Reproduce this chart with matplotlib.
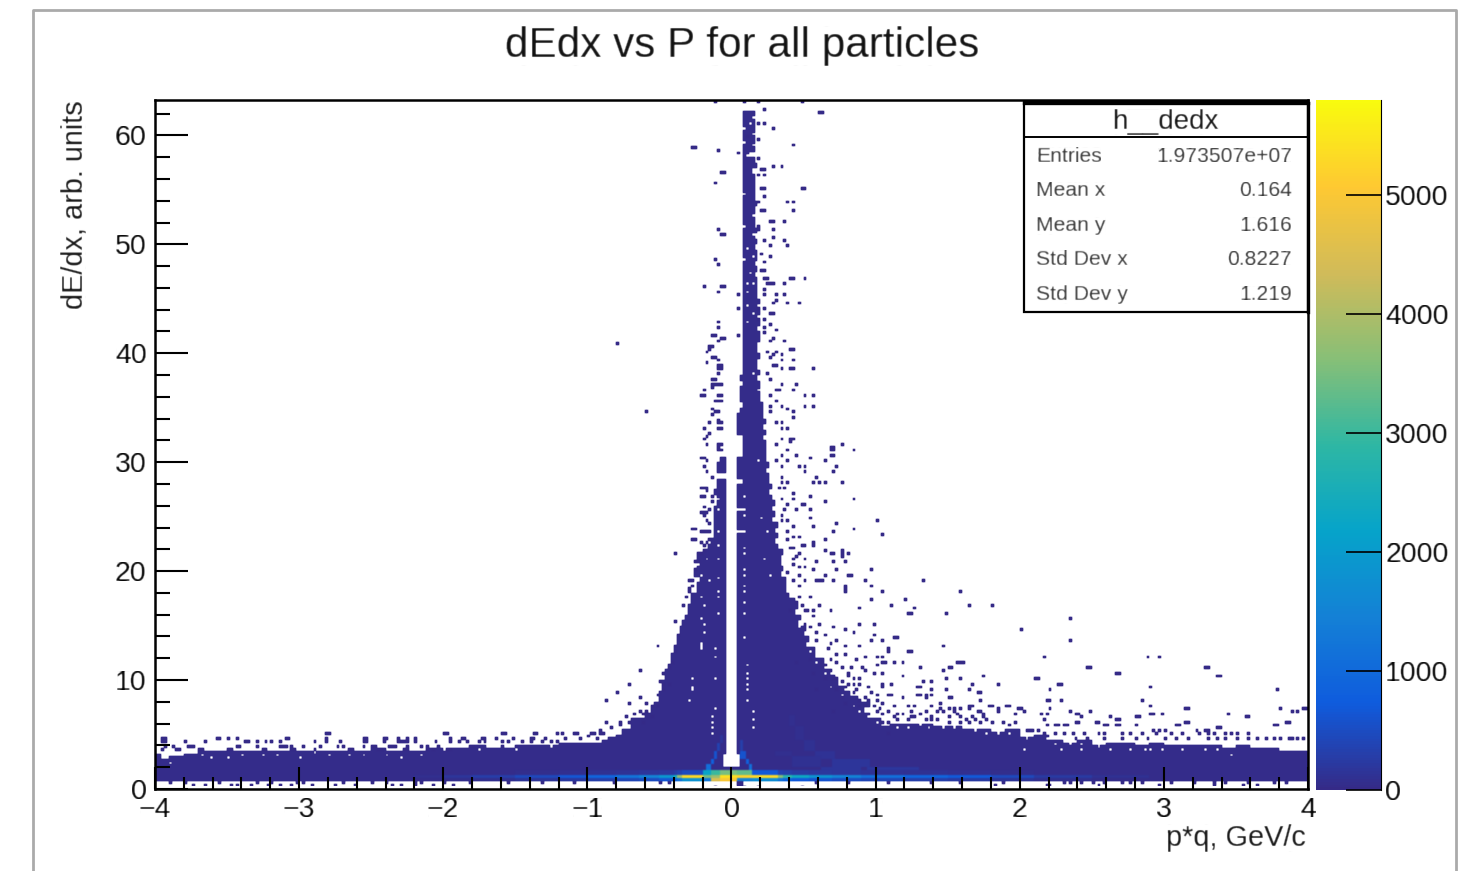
import numpy as np
import matplotlib
matplotlib.use('Agg')
import matplotlib.pyplot as plt
from matplotlib.colors import LinearSegmentedColormap
from matplotlib.lines import Line2D
from matplotlib.patches import Rectangle

plt.rcParams['font.family'] = ['Liberation Sans', 'DejaVu Sans']

# histogram binning
n_p_bins = 400
n_y_bins = 253
y_max = 63.25

# solid body below dE/dx = 6: column ranges [left edge, top of filled region]
body_edges = [-4.0, -3.95, -3.9, -3.8, -3.7, -3.6, -3.5, -3.4, -3.3, -3.2, -3.1, -3.0, -2.9, -2.8, -2.7, -2.6, -2.5,
              -2.4, -2.3, -2.2, -2.1, -2.0, -1.9, -1.8, -1.7, -1.6, -1.5, -1.4, -1.3, -1.2, -1.1, -1.0, -0.95,
              -0.9, -0.85, -0.8, -0.75, -0.7, -0.05, 0.04, 1.05, 1.1, 1.2, 1.3, 1.4, 1.5, 1.6, 1.7, 1.8,
              1.9, 2.0, 2.1, 2.2, 2.3, 2.4, 2.5, 2.6, 2.7, 2.8, 2.9, 3.0, 3.1, 3.2, 3.3, 3.4, 3.5, 3.6, 3.7, 3.8, 3.9, 4.0]
body_tops = [3.3, 2.7, 2.9, 3.2, 3.4, 3.4, 3.5, 3.4, 3.6, 3.4, 3.5, 3.4, 3.5, 3.6, 3.4, 3.5, 3.7, 3.5, 3.6, 3.5, 3.7,
             3.8, 3.7, 3.9, 3.8, 3.8, 4.0, 3.9, 4.0, 4.2, 4.2, 4.2, 4.3, 4.4, 4.8, 5.0, 5.4, 6.0, 2.0, 6.0,
             5.8, 6.0, 6.1, 6.0, 5.7, 5.8, 5.5, 5.4, 5.3, 5.4, 4.8, 4.9, 4.4, 4.3, 4.4, 4.1, 4.3, 4.3, 4.1, 4.2, 4.0, 4.1,
             3.9, 3.9, 3.8, 3.9, 3.8, 3.7, 3.6, 3.5]
body_count = 30

# solid spike above dE/dx = 6: one entry per 0.5-high row starting at 6
spike_right = [1.05, 0.97, 0.93, 0.96, 0.88, 0.83, 0.78, 0.75, 0.72, 0.67, 0.63, 0.63, 0.58, 0.58, 0.53, 0.54, 0.50, 0.52,
               0.47, 0.49, 0.45, 0.47, 0.44, 0.41, 0.39, 0.38, 0.39, 0.35, 0.37, 0.35, 0.34, 0.36, 0.33, 0.31, 0.33, 0.30,
               0.32, 0.29, 0.31, 0.28, 0.30, 0.28, 0.27, 0.29, 0.26, 0.27, 0.25, 0.27, 0.24, 0.25, 0.23, 0.24, 0.22, 0.24,
               0.21, 0.23, 0.22, 0.21, 0.22, 0.20, 0.20, 0.19, 0.20, 0.18, 0.19, 0.18, 0.18, 0.19, 0.18, 0.17, 0.19, 0.19,
               0.17, 0.20, 0.18, 0.19, 0.17, 0.19, 0.17, 0.175, 0.17, 0.18, 0.165, 0.17, 0.165, 0.17, 0.18, 0.165, 0.17,
               0.16, 0.17, 0.165, 0.155, 0.165, 0.16, 0.17, 0.16, 0.165, 0.16, 0.15, 0.16, 0.14, 0.17, 0.15, 0.11, 0.15,
               0.165, 0.155, 0.15, 0.165, 0.16, 0.155, 0.15]
spike_left = [-0.70, -0.60, -0.56, -0.54, -0.50, -0.49, -0.47, -0.47, -0.46, -0.45, -0.43, -0.42, -0.41, -0.39, -0.37,
              -0.37, -0.35, -0.35, -0.33, -0.31, -0.30, -0.30, -0.27, -0.27, -0.24, -0.23, -0.22, -0.25, -0.24, -0.22,
              -0.23, -0.19, -0.16, -0.14, -0.13, -0.115, -0.12, -0.115, -0.12, -0.115, -0.11, -0.11, -0.12, -0.11, -0.11,
              -0.05, -0.11, -0.11, -0.09, -0.05]
spike_inner = [0.044] * 44 + [0.085, 0.044, 0.044, 0.044, 0.044, 0.085, 0.085, 0.085, 0.085, 0.044, 0.044, 0.044, 0.044,
                              0.06, 0.085, 0.06, 0.07, 0.06, 0.085, 0.07, 0.085] + [0.085] * 48

# isolated filled cells (p, dE/dx)
stray_top = [(-0.11, 63), (0.09, 63), (0.18, 63), (0.486, 63.1), (0.236, 62.4), (0.61, 62.2), (0.63, 62.2),
             (0.183, 61.2), (0.236, 61.2), (0.29, 60.7), (0.10, 59.8), (0.183, 59.5), (0.44, 59.2), (-0.27, 58.8),
             (-0.25, 58.8), (-0.09, 58.5), (0.06, 58.3), (0.183, 57.8), (0.29, 57.1), (0.34, 57.1), (0.36, 57.1),
             (0.21, 56.9), (0.23, 56.9), (-0.065, 56.6), (-0.045, 56.6), (0.183, 56.3), (0.236, 56.3), (-0.11, 55.6),
             (0.21, 55.1), (0.23, 55.1), (0.486, 55.1), (0.506, 55.1), (0.236, 54.4), (0.183, 53.9), (0.384, 53.9),
             (0.44, 53.9), (0.44, 53.2), (0.21, 53), (0.23, 53), (0.266, 52.2), (0.286, 52.2), (0.365, 52),
             (0.183, 51.7), (0.29, 51.3), (0.183, 51.3), (-0.09, 51.3), (-0.065, 50.8), (-0.045, 50.8), (0.29, 50.5),
             (0.236, 50.3), (0.365, 50.3), (0.26, 49.8), (0.28, 49.8), (0.384, 49.8), (0.21, 49.1), (0.26, 48.8),
             (0.28, 48.8), (-0.11, 48.6), (-0.09, 48.1), (0.22, 48.4), (0.24, 48.4), (0.21, 47.6), (0.23, 47.6),
             (0.41, 46.9), (0.43, 46.9), (0.515, 46.9), (0.225, 46.9), (0.245, 46.9), (0.365, 46.4), (0.25, 46.4),
             (0.27, 46.4), (0.29, 46.4), (-0.185, 46.2), (-0.065, 46.2), (-0.045, 46.2), (-0.09, 45.7), (0.22, 45.9),
             (0.24, 45.9), (0.236, 45.4), (0.31, 45.4), (0.365, 45.4), (0.06, 45.4), (0.31, 44.9), (0.384, 44.7),
             (0.46, 44.7), (0.29, 44.5), (0.2, 44.2), (0.22, 44.2), (0.06, 44), (0.266, 43.7), (0.286, 43.7),
             (-0.09, 42.8), (-0.09, 42.3), (0.2, 43.2), (0.22, 43.2), (0.24, 43.2), (0.22, 42.3), (0.22, 41.9),
             (0.24, 42.3), (0.266, 42.5), (0.31, 42), (-0.14, 41.6), (-0.12, 41.6), (-0.065, 41.3), (-0.045, 41.3),
             (0.06, 41.6), (0.26, 41.1), (0.28, 41.1), (0.365, 41.1), (0.29, 41.3), (-0.09, 41.1)]
stray_lobe_left = [(-0.79, 40.8), (-0.59, 34.5), (-0.39, 21.5), (-0.145, 40.5), (-0.125, 40.5), (-0.145, 40.25),
                   (-0.17, 40.1), (-0.14, 39.7), (-0.12, 39.7), (-0.095, 39.4), (-0.17, 39), (-0.065, 38.8),
                   (-0.065, 38.5), (-0.085, 38.8), (-0.085, 38.5), (-0.095, 38.2), (-0.14, 37.7), (-0.12, 37.7), (-0.14, 37.2),
                   (-0.14, 36.8), (-0.12, 37), (-0.065, 37), (-0.085, 37), (-0.185, 36.7), (-0.21, 36.2), (-0.19, 36.2),
                   (-0.095, 36.2), (-0.11, 35.7), (-0.09, 35.7), (-0.07, 35.7), (-0.07, 36), (-0.14, 34.8), (-0.14, 34.4),
                   (-0.12, 34.6), (-0.095, 34.5), (-0.095, 33.9), (-0.065, 33.6), (-0.085, 33.6), (-0.145, 33.6),
                   (-0.185, 33.1), (-0.095, 33.1), (-0.065, 33.1), (-0.145, 32.6), (-0.17, 32.3), (-0.19, 32.0),
                   (-0.17, 31.7), (-0.095, 31.4), (-0.065, 31.6), (-0.085, 31.6), (-0.095, 31), (-0.075, 31), (-0.21, 30.4),
                   (-0.19, 30.4), (-0.17, 30), (-0.185, 29.5), (-0.17, 29), (-0.13, 28.7), (-0.21, 27.7), (-0.19, 27.7),
                   (-0.17, 27.7), (-0.17, 27.3), (-0.21, 26.8), (-0.19, 26.8), (-0.13, 26.8), (-0.14, 26.3), (-0.19, 25.8),
                   (-0.21, 25.3), (-0.19, 25.3), (-0.17, 25.3), (-0.18, 25), (-0.15, 25.5), (-0.17, 24.5), (-0.15, 24.3), (-0.26, 23.9),
                   (-0.24, 23.9), (-0.21, 23.6), (-0.19, 23.6), (-0.17, 23.6), (-0.145, 23.5), (-0.265, 22.9), (-0.245, 22.9), (-0.21, 22.7),
                   (-0.17, 22.6), (-0.15, 22.9), (-0.19, 22.4), (-0.225, 21.5), (-0.205, 21.5), (-0.19, 21.9), (-0.24, 20.9),
                   (-0.22, 20.9), (-0.24, 20.1), (-0.26, 19.2), (-0.28, 19.2), (-0.26, 18.7), (-0.29, 18.4)]
stray_lobe_right = [(0.41, 40.3), (0.43, 40.3), (0.57, 38.7), (0.43, 39.4), (0.36, 39.4), (0.34, 38.7), (0.36, 38.7),
                    (0.41, 38.7), (0.43, 38.7), (0.36, 37.2), (0.455, 37), (0.44, 36.7), (0.515, 36), (0.57, 36),
                    (0.515, 35.2), (0.57, 35.2), (0.31, 35.5), (0.36, 35.2), (0.39, 34.8), (0.44, 34.5), (0.44, 34),
                    (0.41, 32), (0.43, 32), (0.41, 31.75), (0.76, 31.7), (0.78, 31.7), (0.86, 31.2), (0.69, 31.4),
                    (0.71, 31.4), (0.69, 31), (0.71, 31), (0.69, 30.5), (0.71, 30.5), (0.54, 30.4), (0.56, 30.4),
                    (0.455, 30.6), (0.66, 30), (0.73, 29.5), (0.715, 29), (0.48, 29.7), (0.50, 29.7), (0.515, 29.1),
                    (0.585, 28.5), (0.62, 28.2), (0.64, 28.2), (0.76, 28.2), (0.78, 28.2), (0.57, 28), (0.86, 26.5),
                    (0.64, 26.3), (0.54, 26.8), (0.56, 26.8), (0.485, 26), (0.505, 26), (0.54, 25.6), (0.56, 25.6),
                    (0.54, 24.8), (0.56, 24.8), (0.455, 25.6), (1.0, 24.6), (0.73, 24.4), (0.57, 24.1), (0.84, 23.9),
                    (0.715, 23.6), (1.06, 23.4), (0.64, 22.9), (0.57, 22.6), (0.57, 22.35), (0.485, 22.4), (0.505, 22.4),
                    (0.64, 21.9), (0.69, 21.7), (0.71, 21.7), (0.76, 21.7), (0.76, 21.4), (0.76, 21.9), (0.78, 21.7),
                    (0.78, 21.4), (0.78, 21.9), (0.8, 21.7), (0.715, 20.9), (0.79, 20.9), (0.585, 20.9), (0.515, 21.2),
                    (0.57, 20.2), (0.73, 20), (0.815, 19.7), (0.835, 19.7), (0.96, 20), (0.98, 20), (0.66, 19.5),
                    (0.715, 19.2), (0.935, 19.2), (0.595, 19), (0.615, 19), (0.635, 19), (0.79, 18.6), (0.79, 18.35),
                    (0.96, 18.5), (0.98, 18.5), (0.48, 20.4), (0.50, 20.4), (0.455, 21.3), (0.48, 19.7), (0.5, 19.2),
                    (0.42, 26.5), (0.4, 28.0), (0.42, 27.2), (0.38, 30.0), (0.36, 29.5), (0.4, 31.0), (0.36, 32.0),
                    (0.34, 33.5), (0.36, 33.2), (0.38, 33.2), (0.31, 36.5), (0.33, 36.5), (0.25, 38.0), (0.27, 37.5),
                    (0.29, 38.9), (0.31, 38.9), (0.27, 39.5), (0.25, 40.0), (0.34, 39.9), (0.29, 39.9), (0.31, 40.0),
                    (0.34, 28.0), (0.37, 27.5), (0.39, 26.2), (0.34, 25.0), (0.36, 24.5), (0.38, 24.5), (0.42, 24.0),
                    (0.44, 23.0), (0.46, 23.0), (0.44, 22.0), (0.42, 21.0), (0.44, 20.6), (0.30, 33.7), (0.28, 35.0), (0.26, 36.0),
                    (0.32, 31.5), (0.34, 30.5), (0.31, 30.0), (0.36, 28.7), (0.33, 27.5), (0.35, 26.5), (0.37, 25.7),
                    (0.40, 23.5), (0.38, 22.8), (0.41, 22.2), (0.46, 21.6), (0.4, 19.8), (0.44, 19.0), (0.47, 18.6), (0.27, 34.6)]
stray_mid_left = [(-0.39, 15.4), (-0.515, 13.2), (-0.64, 10.8), (-0.71, 9.5), (-0.79, 8.8), (-0.86, 8.2), (-0.64, 8.3),
                  (-0.71, 7.9), (-0.585, 7.9), (-0.67, 6.9), (-0.735, 6.6), (-0.86, 6.2), (-0.82, 5.7), (-0.77, 6.2),
                  (-0.70, 6.2), (-0.62, 6.2), (-0.55, 6.6), (-0.505, 7.7), (-0.435, 11.2), (-0.48, 10.5), (-0.435, 9.7),
                  (-0.41, 11.7), (-0.39, 13.2), (-0.365, 14), (-0.38, 12.6), (-0.5, 9.9), (-0.48, 9.5), (-0.46, 9.0),
                  (-0.52, 8.5), (-0.56, 7.7), (-0.6, 7.2), (-0.64, 7.0), (-0.62, 6.9), (-0.76, 5.9), (-0.9, 5.4),
                  (-0.88, 5.0), (-0.96, 5.0), (-1.0, 4.9), (-0.3, 17.5), (-0.28, 18.0), (-0.32, 16.8)]
stray_mid_right = [(0.40, 17.8), (0.48, 17.6), (0.55, 17.6), (0.49, 16.9), (0.62, 16.9), (0.41, 16.4), (0.525, 16.3),
                   (0.57, 16.4), (0.69, 16.4), (0.79, 18.1), (1.06, 18), (1.115, 16.9), (0.895, 16.7), (0.965, 17.3),
                   (0.895, 15.2), (0.99, 15.2), (0.62, 15.2), (0.71, 14.9), (0.79, 14.6), (0.86, 14.3), (0.99, 14.1),
                   (0.595, 14.3), (0.64, 14.1), (0.50, 14.6), (0.73, 13.7), (0.79, 13.1), (0.895, 13.2), (0.965, 13.5),
                   (1.06, 13.7), (1.14, 13.8), (1.08, 12.8), (0.665, 12.8), (0.57, 12.45), (0.54, 11.8), (0.455, 11.5),
                   (0.69, 11.8), (0.79, 12.3), (0.87, 11.8), (0.94, 12), (1.02, 12.15), (1.06, 11.7), (1.13, 11.7),
                   (0.76, 11), (0.825, 11), (0.91, 11.1), (1.01, 11.4), (0.57, 10.6), (0.64, 10.2), (0.71, 10.2),
                   (0.85, 10.2), (0.99, 10.5), (1.115, 9.7), (1.05, 9.7), (0.73, 9.2), (0.585, 9.1), (0.76, 8.3),
                   (0.79, 7.9), (0.885, 7.6), (0.94, 7.7), (1, 8.5), (1.08, 8.5), (0.71, 7.1), (1.13, 7.6), (1.045, 6.2),
                   (1.13, 5.9), (1.09, 5.2), (0.74, 11.6), (0.8, 10.7), (0.88, 10.0), (0.9, 9.6), (0.95, 9.3), (0.97, 8.9),
                   (1.02, 8.1), (1.05, 7.8), (1.0, 7.1), (1.06, 6.9), (1.12, 6.6), (0.72, 12.4), (0.77, 9.9), (0.82, 9.5),
                   (0.87, 9.2), (0.92, 8.4), (0.99, 7.6), (0.93, 10.8), (1.15, 6.3), (1.1, 7.2), (0.68, 13.3), (0.74, 10.2),
                   (0.79, 9.3), (0.84, 8.9), (0.9, 8.2), (0.95, 8.0), (1.03, 7.4), (0.6, 13.7), (0.66, 11.4), (0.70, 10.8),
                   (0.58, 15.8), (0.52, 15.0), (0.55, 14.8), (0.45, 17.2), (0.5, 16.3), (0.82, 10.3), (0.86, 9.7)]
stray_right = [(1.337, 19), (1.59, 18), (1.207, 17.3), (1.117, 16.8), (1.265, 16.6), (1.64, 16.8), (1.66, 16.8),
               (1.814, 16.8), (1.237, 16.1), (1.257, 16.1), (1.485, 16.1), (2.345, 15.6), (2.017, 14.6), (2.345, 13.7),
               (1.127, 13.8), (1.467, 13.2), (1.237, 12.7), (1.257, 12.7), (1.09, 12.7), (2.163, 12), (2.896, 12.2),
               (2.97, 12), (2.464, 11), (2.484, 11), (2.667, 10.5), (2.687, 10.5), (3.29, 11), (3.31, 11), (3.364, 10.3),
               (3.384, 10.3), (1.568, 11.7), (1.588, 11.7), (1.513, 11.2), (1.533, 11.2), (1.612, 11.5), (1.318, 11.2),
               (1.467, 10.8), (1.2, 11.5), (1.127, 11.5), (1.19, 10.3), (1.485, 10), (1.594, 10), (1.758, 10.3),
               (2.116, 10), (2.136, 10), (2.265, 9.5), (2.285, 9.5), (1.84, 9.5), (1.86, 9.5), (1.67, 9.5), (1.335, 9.8),
               (1.39, 9.8), (2.915, 9.3), (3.794, 9), (2.218, 9), (1.64, 9), (1.66, 9), (1.71, 8.8), (1.73, 8.8),
               (1.485, 9), (1.39, 9), (1.29, 9.3), (1.31, 9.3), (1.29, 8.6), (1.31, 8.6), (1.36, 8.5), (1.38, 8.5),
               (1.36, 8.25), (2.19, 8.1), (2.21, 8.1), (2.29, 8.1), (2.84, 8.1), (1.74, 8.1), (1.513, 8.3), (1.533, 8.3),
               (2.915, 7.6), (1.788, 7.6), (1.808, 7.6), (1.915, 7.6), (1.935, 7.6), (1.99, 7.4), (2.01, 7.4), (3.144, 7.4),
               (3.164, 7.4), (3.815, 7.4), (3.97, 7.4), (3.99, 7.4), (3.9, 7.1), (3.92, 7.1), (1.84, 7.1), (1.86, 7.1),
               (1.84, 7.35), (1.86, 7.35), (2.214, 7.4), (2.03, 7.1), (2.345, 7.1), (2.494, 7.1), (2.392, 6.9),
               (2.412, 6.9), (2.19, 6.9), (2.144, 6.9), (2.438, 6.6), (2.64, 6.6), (2.815, 6.6), (2.835, 6.6), (2.905, 6.9),
               (2.925, 6.9), (2.99, 6.9), (3.447, 6.9), (3.567, 6.6), (3.587, 6.6), (1.96, 6.9), (2.665, 6.4), (2.685, 6.4),
               (2.163, 6.4), (1.647, 7.7), (1.667, 7.7), (1.647, 7.45), (1.6, 7.4), (1.55, 7.4), (1.5, 7.4), (1.756, 6.9),
               (1.705, 7), (1.725, 7), (1.457, 7.9), (1.38, 7.5), (1.4, 7.5), (1.24, 7.5), (1.26, 7.5), (1.09, 8.5),
               (1.11, 8.5), (1.196, 8.3), (1.046, 9.3), (1.115, 9.7), (1.046, 10.5), (1.046, 11.5), (1.066, 11.5),
               (1.046, 12.1), (1.057, 13.5), (3.09, 5.9), (3.11, 5.9), (3.144, 6.1), (3.164, 6.1), (3.77, 5.9), (3.79, 5.9),
               (3.842, 6.1), (3.862, 6.1), (3.364, 5.65), (3.384, 5.65), (3.29, 5.4), (3.31, 5.4), (3.22, 5.4), (2.94, 5.4),
               (2.96, 5.4), (3.0, 5.4), (3.02, 5.4), (2.537, 6.1), (2.557, 6.1), (2.595, 5.9), (2.615, 5.9), (2.665, 5.8),
               (2.685, 5.8), (2.815, 5.9), (2.392, 6.1), (2.412, 6.1), (2.306, 5.9), (2.326, 5.9), (2.25, 5.9), (2.27, 5.9),
               (2.19, 5.9), (1.96, 6.15), (1.98, 6.15), (2.05, 5.4), (2.07, 5.4), (2.1, 5.4), (2.12, 5.4),
               (1.2, 6.8), (1.25, 6.5), (1.3, 6.9), (1.34, 6.4), (1.4, 6.7), (1.44, 6.4), (1.47, 7.0), (1.52, 6.6), (1.57, 6.9),
               (1.62, 6.4), (1.67, 6.6), (1.72, 6.1), (1.78, 6.3), (1.82, 6.0), (1.88, 6.1), (1.92, 5.8), (1.25, 7.0),
               (1.35, 7.2), (1.45, 7.4), (1.7, 6.3), (1.58, 6.2), (1.1, 6.2), (1.15, 6.9), (1.22, 6.3), (1.28, 6.6), (1.38, 6.3),
               (1.42, 7.0), (1.5, 6.2), (1.54, 7.0), (1.6, 6.7), (1.65, 6.2), (1.75, 6.5)]
# dense dashes just above the solid band on the far sides
row_p_47 = [-3.96, -3.94, -3.58, -3.56, -3.5, -3.43, -3.09, -3.07, -2.81, -2.55, -2.53, -2.41, -2.39, -2.32, -2.25,
            -2.2, -1.95, -1.86, -1.84, -1.72, -1.7, -1.63, -1.51, -1.39, -1.37, -1.28, -1.16, -1.05, -0.93]
row_p_435 = [-3.96, -3.94, -3.79, -3.66, -3.38, -3.36, -3.29, -3.22, -3.2, -3.14, -2.89, -2.81, -2.71, -2.55, -2.53,
             -2.41, -2.32, -2.3, -2.28, -2.25, -2.2, -2.06, -1.95, -1.9, -1.82, -1.75, -1.7, -1.6, -1.55, -1.45, -1.4, -1.3, -1.25, -1.2]
row_p_39 = [-3.94, -3.87, -3.77, -3.75, -3.73, -3.43, -3.41, -3.29, -3.14, -3.12, -3.1, -3.06, -2.97, -2.85, -2.74,
            -2.72, -2.7, -2.55, -2.5, -2.48, -2.37, -2.35, -2.33, -2.25, -2.16, -2.14, -2.12, -2.04, -1.8, -1.78, -1.6, -1.5]
row_p_365 = [-3.96, -3.85, -3.83, -3.7, -3.68, -3.5, -3.48, -3.25, -3.23, -3.05, -3.03, -2.9, -2.65, -2.63, -2.45, -2.43,
             -2.28, -2.26, -2.1, -2.08, -1.98, -1.96]
row_p_51 = [-2.82, -2.8, -1.36, -1.34, -1.6, -1.58, -1.2, -1.18, -1.1, -1.08, -0.98, -0.96, -0.9, -0.88, -2.0, -1.98]
row_p_r50 = [2.16, 2.24, 2.3, 2.37, 2.45, 2.55, 2.6, 2.7, 2.76, 2.85, 2.95, 3.05, 3.12, 3.25, 3.3, 3.36, 3.43, 3.47, 3.5, 3.59]
row_p_r46 = [2.4, 2.47, 2.6, 2.7, 2.8, 2.9, 3.0, 3.1, 3.17, 3.3, 3.37, 3.43, 3.5, 3.6, 3.65, 3.7, 3.77, 3.82, 3.87, 3.9, 3.94, 3.97]
row_p_bottom = [-3.74, -3.65, -3.47, -3.43, -3.33, -3.21, -3.13, -3.06, -2.92, -2.75, -2.6, -2.35, -2.29, -2.18, -2.08,
                -1.93, 1.83, 2.18, 2.2, 2.55, 2.97, 3.34, 3.54, 3.65, 0.05, 0.07]
row_p_bottom_hi = [-3.9, -3.8, -3.55, -3.3, -3.2, -3.02, -2.98, -2.7, -2.5, -2.4, -2.2, -2.15, -2.0, -1.8, -1.55, -1.3, -1.1,
                   -0.8, -0.5, -0.42, 0.6, 0.8, 1.1, 1.4, 1.6, 1.9, 2.3, 2.34, 2.42, 2.5, 2.6, 2.7, 2.78, 2.85, 3.05, 3.2,
                   3.36, 3.42, 3.58, 3.78, 3.85, 0.05, 0.07]

# white cells punched in the filled region
holes = [(0.09, 26.8), (0.09, 25.1), (0.09, 23.6), (0.09, 22.2), (0.09, 21.5), (0.09, 20.1), (0.09, 19.5), (0.09, 18.7),
         (0.09, 18), (0.09, 17), (0.09, 16.2), (0.09, 13.8), (0.11, 11.4), (0.11, 10.5), (0.11, 10), (0.11, 9.5), (0.11, 9),
         (0.11, 8), (0.14, 7), (0.14, 6.3), (0.14, 5.5), (-0.215, 15.5), (-0.215, 13.4), (-0.215, 13.1), (-0.215, 12.9),
         (-0.11, 12.9), (-0.11, 12.1), (-0.11, 10.2), (-0.11, 7.4), (-0.14, 6.6), (-0.14, 6.2), (-0.14, 5.7), (-0.14, 5),
         (-0.265, 10), (-0.265, 9.4), (-0.265, 9.1), (-0.295, 8), (-0.185, 16.9), (-0.185, 15.2), (-0.185, 14.4),
         (-0.095, 18), (-0.095, 17.5), (-0.095, 16.1), (-0.095, 19.4), (-0.095, 21), (-0.095, 22.3), (-0.095, 23.5),
         (-0.095, 25.5), (-0.095, 26.5), (0.05, 25.6), (0.07, 25.6), (0.09, 25.6), (0.05, 23.5), (0.07, 23.5),
         (2.03, 3.5), (2.29, 3.7), (2.42, 3.5), (2.62, 3.5), (2.78, 3.5), (2.87, 3.5), (2.91, 3.5), (2.99, 3.7), (3.12, 3.5),
         (3.29, 3.5), (3.364, 3.5), (3.46, 3.1), (3.98, 3.5), (-3.9, 2.4), (-3.5, 2.9), (-3.25, 3.0), (-3.0, 2.9), (-2.8, 3.0),
         (-2.55, 3.0), (-2.3, 2.9), (-3.67, 3.1), (-3.61, 2.8), (-2.15, 3.2), (0.1, 58.05), (0.12, 58.05), (0.14, 58.05),
         (0.09, 60.5), (0.09, 59.3), (0.15, 60.0), (0.13, 61.0), (0.15, 61.5), (0.15, 59.2), (0.09, 54.5),
         (0.15, 52.5), (0.09, 51.5), (0.15, 50.8), (0.09, 48.5), (0.13, 47.3), (0.1, 45.6), (0.15, 48.9), (0.12, 44.4),
         (0.12, 46.4), (0.14, 46.4), (0.12, 49.6), (0.16, 43.5), (0.1, 42.8), (0.2, 30.0), (0.22, 33.0), (0.2, 36.5), (0.16, 38.0),
         (0.21, 24.8), (0.25, 23.5), (0.23, 21.0), (0.27, 19.5), (-0.2, 19.5), (-0.17, 21.0), (-0.15, 19.0), (-0.21, 17.5),
         (0.49, 15.8), (0.47, 14.8), (0.55, 12.5), (0.6, 11.6), (0.64, 10.5), (0.7, 9.4), (0.76, 8.7), (0.84, 7.7), (0.9, 7.2),
         (0.95, 6.7), (1.0, 6.1), (1.16, 5.6), (1.23, 5.5), (1.3, 5.8), (1.37, 5.7), (1.46, 5.5), (1.55, 5.5), (1.63, 5.6), (1.7, 5.3),
         (1.76, 5.2), (1.85, 5.0), (1.93, 5.2), (2.0, 5.2), (2.06, 4.6), (2.18, 4.7), (2.25, 4.2), (2.36, 4.1), (2.44, 4.2), (2.56, 3.9),
         (-3.85, 3.0), (-3.4, 3.2), (-3.15, 3.2), (-2.9, 3.3), (-2.65, 3.2), (-2.4, 3.2), (-2.0, 3.5), (-1.75, 3.5), (-1.5, 3.7), (-1.25, 3.9)]
# white stretch above the gap foot (p from, p to, y from, y to)
clear_p_lo = [-0.07]
clear_p_hi = [0.06]
clear_y_lo = [2.0]
clear_y_hi = [3.2]

# ridge along dE/dx = 1 (edges, counts per column span)
ridge_edges = [-2.2, -2.0, -1.8, -1.5, -1.2, -1.0, -0.8, -0.65, -0.5, -0.4, -0.37, -0.33, -0.2, -0.14, -0.08, 0.05,
               0.13, 0.32, 0.36, 0.42, 0.55, 0.7, 0.9, 1.2, 1.5, 1.8, 2.1, 2.5, 2.9, 4.0]
ridge_counts = [90, 180, 280, 450, 650, 900, 1200, 1500, 1900, 2500, 3800, 5300, 3500, 3800, 5400, 5200, 5300, 3600, 2800,
                2300, 1800, 1500, 1100, 900, 700, 450, 250, 100, 30]
ridge_below = [40, 60, 90, 150, 220, 300, 400, 500, 650, 850, 1200, 1800, 1300, 4500, 5000, 1500, 1700, 1200, 900,
               700, 600, 500, 400, 300, 250, 150, 80, 40, 30]
ridge_above = [30, 35, 40, 60, 80, 100, 130, 160, 200, 260, 350, 500, 2200, 3000, 3500, 3300, 700, 350, 300, 250,
               200, 160, 130, 110, 90, 60, 40, 30, 30]

# faint kinematic bands (p from, p to, y from, y to, count)
band_p_lo = [-0.17, -0.15, -0.12, -0.10, -0.09, 0.11, 0.09, 0.07, 0.06, 0.40, 0.44, 0.50, 0.58, 0.70, 0.95, 0.30, 0.42, 0.62]
band_p_hi = [-0.14, -0.12, -0.10, -0.08, -0.07, 0.14, 0.11, 0.09, 0.08, 0.44, 0.50, 0.58, 0.72, 0.96, 1.3, 0.42, 0.62, 0.9]
band_y_lo = [1.75, 2.25, 2.75, 3.5, 4.25, 1.75, 2.25, 2.75, 3.5, 5.75, 4.5, 3.5, 2.75, 2.0, 1.75, 3.0, 2.0, 1.75]
band_y_hi = [2.25, 2.75, 3.5, 4.25, 5.0, 2.25, 2.75, 3.5, 4.5, 6.75, 5.75, 4.5, 3.5, 2.75, 2.0, 3.5, 3.0, 2.0]
band_count = [1100, 800, 600, 350, 180, 1100, 800, 600, 300, 70, 90, 110, 130, 160, 200, 70, 100, 170]

x_ticks = [-4, -3, -2, -1, 0, 1, 2, 3, 4]
y_ticks = [0, 10, 20, 30, 40, 50, 60]
z_ticks = [0, 1000, 2000, 3000, 4000, 5000]
z_max = 5800

stat_names = ['Entries', 'Mean x', 'Mean y', 'Std Dev x', 'Std Dev y']
stat_values = ['1.973507e+07', '0.164', '1.616', '0.8227', '1.219']

# ROOT kBird palette
bird = [(0.2082, 0.1664, 0.5293), (0.0592, 0.3599, 0.8684), (0.0780, 0.5041, 0.8385), (0.0232, 0.6419, 0.7914),
        (0.1802, 0.7178, 0.6425), (0.5301, 0.7492, 0.4662), (0.8186, 0.7328, 0.3499), (0.9956, 0.7862, 0.1968),
        (0.9764, 0.9832, 0.0539)]
cmap = LinearSegmentedColormap.from_list('bird', bird, N=255)


def blur(arr, side):
    out = arr
    for axis in (0, 1):
        out = side * np.roll(out, 1, axis) + (1 - 2 * side) * out + side * np.roll(out, -1, axis)
    return out


def soften(image, dpi):
    # the reference is an upscaled screenshot, so everything is slightly soft
    return blur(image.astype(float), 0.15), 0, 0


def soften_cells(image, dpi):
    # alpha-weighted blur with a gain, so single cells stay dark and get a halo
    img = image.astype(float)
    alpha = img[..., 3]
    soft = blur(alpha, 0.22)
    out = img.copy()
    for c in range(3):
        out[..., c] = blur(img[..., c] * alpha, 0.22) / np.maximum(soft, 1e-4)
    out[..., 3] = np.minimum(1.0, soft * 1.7)
    return out, 0, 0


p_edges = np.linspace(-4, 4, n_p_bins + 1)
y_edges = np.linspace(0, y_max, n_y_bins + 1)
p_mid = 0.5 * (p_edges[1:] + p_edges[:-1])
y_mid = 0.5 * (y_edges[1:] + y_edges[:-1])
hist = np.zeros((n_y_bins, n_p_bins))

col = np.clip(np.searchsorted(body_edges, p_mid, side='right') - 1, 0, len(body_tops) - 1)
tops = np.array(body_tops)[col]
for i in range(n_p_bins):
    hist[(y_mid >= 0.75) & (y_mid < tops[i]), i] = body_count

# spike rows above the column part
for r in range(len(spike_right)):
    row_lo = 6.0 + 0.5 * r
    sel_y = (y_mid >= row_lo) & (y_mid < row_lo + 0.5) & (y_mid < 62.3)
    hist[np.ix_(sel_y, (p_mid >= spike_inner[r]) & (p_mid < spike_right[r]))] = body_count
    if r < len(spike_left):
        hist[np.ix_(sel_y, (p_mid >= spike_left[r]) & (p_mid < -0.05))] = body_count

for lo, hi, ylo, yhi in zip(clear_p_lo, clear_p_hi, clear_y_lo, clear_y_hi):
    hist[np.ix_((y_mid >= ylo) & (y_mid < yhi), (p_mid >= lo) & (p_mid < hi))] = 0


def put(p, y, value):
    i = int(np.clip(np.searchsorted(p_edges, p, side='right') - 1, 0, n_p_bins - 1))
    j = int(np.clip(np.searchsorted(y_edges, y, side='right') - 1, 0, n_y_bins - 1))
    hist[j, i] = value


for cells in (stray_top, stray_lobe_left, stray_lobe_right, stray_mid_left, stray_mid_right, stray_right):
    for p, y in cells:
        put(p, y, 3)
for row_y, row_p in ((4.7, row_p_47), (4.35, row_p_435), (3.9, row_p_39), (3.65, row_p_365), (5.1, row_p_51), (5.0, row_p_r50),
                     (4.6, row_p_r46), (0.4, row_p_bottom), (0.6, row_p_bottom_hi)):
    for p in row_p:
        put(p, row_y, 3)
for p, y in holes:
    put(p, y, 0)

# ridge and bands sit on the solid body
for k in range(len(ridge_counts)):
    sel = (p_mid >= ridge_edges[k]) & (p_mid < ridge_edges[k + 1])
    hist[np.ix_((y_mid >= 0.75) & (y_mid < 1.0), sel)] = ridge_below[k]
    hist[np.ix_((y_mid >= 1.0) & (y_mid < 1.25), sel)] = ridge_counts[k]
    hist[np.ix_((y_mid >= 1.25) & (y_mid < 1.75), sel)] = ridge_above[k]
for k in range(len(band_count)):
    sel = (p_mid >= band_p_lo[k]) & (p_mid < band_p_hi[k])
    hist[np.ix_((y_mid >= band_y_lo[k]) & (y_mid < band_y_hi[k]), sel)] = band_count[k]

fig = plt.figure(figsize=(14.79, 8.71), dpi=100, facecolor='white')
W, H = 1479.0, 871.0


def px_axes(left, top, right, bottom):
    return fig.add_axes([left / W, 1 - bottom / H, (right - left) / W, (bottom - top) / H])


ax = px_axes(155, 100, 1308, 789)
mesh = ax.pcolormesh(p_edges, y_edges, np.ma.masked_equal(hist, 0), cmap=cmap, vmin=0, vmax=z_max,
                     shading='flat', rasterized=True)
ax.set_xlim(-4, 4)
ax.set_ylim(0, y_max)
ax.set_xticks(x_ticks)
ax.set_yticks(y_ticks)
ax.set_xticks(np.arange(-4, 4.01, 0.2), minor=True)
ax.set_yticks(np.arange(0, 63, 2), minor=True)
ax.set_axisbelow(False)
ax.tick_params(axis='x', which='major', direction='in', length=15.8, width=1.5, labelsize=20.5, pad=6)
ax.tick_params(axis='x', which='minor', direction='in', length=8.6, width=1.5)
ax.tick_params(axis='y', which='major', direction='in', length=23.8, width=1.5, labelsize=20.5, pad=6)
ax.tick_params(axis='y', which='minor', direction='in', length=10.8, width=1.5)
for s in ax.spines.values():
    s.set_linewidth(1.8)

fig.text(742 / W, 1 - 46 / H, 'dEdx vs P for all particles', fontsize=30.4, ha='center', va='center', color='#111111')
fig.text(75 / W, 1 - 100 / H, 'dE/dx, arb. units', fontsize=20.8, rotation=90, ha='center', va='top', color='#111111')
fig.text(1306 / W, 1 - 838 / H, 'p*q, GeV/c', fontsize=20.8, ha='right', va='center', color='#111111')

cax = px_axes(1316, 100, 1381, 790)
cb = fig.colorbar(mesh, cax=cax)
cb.set_ticks(z_ticks)
cax.tick_params(axis='y', direction='in', length=25, width=1.2, labelsize=20.5, pad=3, right=True, left=False)
cb.outline.set_visible(False)
cax.spines['right'].set_visible(True)
cax.minorticks_off()

# stat box, drawn in figure pixels
box = Rectangle((1024 / W, 1 - 312 / H), 284 / W, 210 / H, transform=fig.transFigure, facecolor='white',
                edgecolor='black', linewidth=1.6, zorder=5)
fig.add_artist(box)
fig.add_artist(Line2D([1024 / W, 1308 / W], [1 - 137 / H, 1 - 137 / H], color='black', linewidth=1.4, zorder=6))
fig.add_artist(Line2D([1024 / W, 1308 / W], [1 - 103 / H, 1 - 103 / H], color='black', linewidth=2.4, zorder=6))
fig.add_artist(Line2D([1308 / W, 1308 / W], [1 - 103 / H, 1 - 312 / H], color='black', linewidth=2.4, zorder=6))
fig.text(1165 / W, 1 - 122 / H, 'h__dedx', fontsize=20, ha='center', va='center', color='#111111', zorder=7)
for k in range(len(stat_names)):
    row_y = 1 - (156.5 + 34.4 * k) / H
    fig.text(1036 / W, row_y, stat_names[k], fontsize=15.2, ha='left', va='center', color='#333333', zorder=7)
    fig.text(1292 / W, row_y, stat_values[k], fontsize=15.2, ha='right', va='center', color='#333333', zorder=7)

# grey canvas frame
frame_x = [33 / W, 33 / W, 1456 / W, 1456 / W]
frame_y = [0, 1 - 10 / H, 1 - 10 / H, 0]
fig.add_artist(Line2D(frame_x, frame_y, color='#aaaaaa', linewidth=2, zorder=1))

for art in fig.findobj(matplotlib.text.Text):
    art.set_agg_filter(soften)
mesh.set_agg_filter(soften_cells)

fig.savefig('out.png', dpi=100)
